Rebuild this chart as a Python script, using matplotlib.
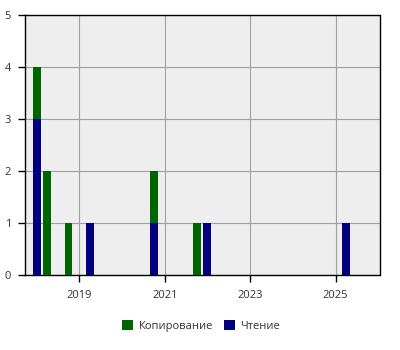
import matplotlib
matplotlib.use("Agg")
import matplotlib.pyplot as plt
import pandas as pd

dates = ["2018-01-01", "2018-04-01", "2018-10-01", "2019-04-01",
         "2020-10-01", "2021-10-01", "2022-01-01", "2025-04-01"]
reading = [3, 0, 0, 1, 1, 0, 1, 1]
copying = [1, 2, 1, 0, 1, 1, 0, 0]
series_names = ["Копирование", "Чтение"]
x_ticks = ["2019-01-01", "2021-01-01", "2023-01-01", "2025-01-01"]
x_tick_labels = ["2019", "2021", "2023", "2025"]

plt.rcParams['font.family'] = ['Open Sans', 'DejaVu Sans']
fig = plt.figure(figsize=(4, 3.5), dpi=100)
ax = fig.add_axes([25/400, 1 - 275/350, (379.5 - 25)/400, (275 - 15)/350])

x = pd.to_datetime(dates)
width = 68
ax.bar(x, reading, width=width, color="#000080", label=series_names[1], zorder=3)
ax.bar(x, copying, width=width, bottom=reading, color="#006400", label=series_names[0], zorder=3)

ax.set_facecolor("#EEEEEE")
ax.set_ylim(0, 5)
ax.set_yticks(range(6))
ax.set_xlim(pd.Timestamp("2017-09-24"), pd.Timestamp("2026-01-12"))
ax.set_xticks(pd.to_datetime(x_ticks))
ax.set_xticklabels(x_tick_labels)
ax.grid(True, color="#A0A0A0", linewidth=0.8, zorder=0)
for s in ax.spines.values():
    s.set_color("black")
    s.set_linewidth(1)
ax.tick_params(labelsize=8, labelcolor="#333333", color="black", length=5, width=1)
ax.tick_params(axis="x", pad=6)
ax.tick_params(axis="y", pad=5)

handles, labels = ax.get_legend_handles_labels()
order = [1, 0]
ax.legend([handles[i] for i in order], [labels[i] for i in order],
          loc="center", bbox_to_anchor=(201/400, 1 - 326/350),
          bbox_transform=fig.transFigure, ncol=2, frameon=False,
          fontsize=8, labelcolor="#333333", handlelength=1.0, handleheight=1.0,
          columnspacing=1.0, handletextpad=0.5)

fig.savefig("out.png", dpi=100)
